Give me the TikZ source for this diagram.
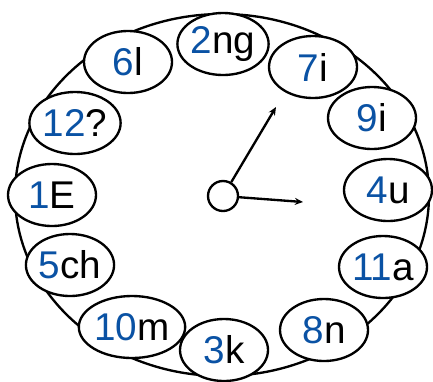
\documentclass[tikz,border=0pt]{standalone}
\usepackage{fontspec}
\setmainfont{Liberation Sans}
\usepackage{xcolor}
\usetikzlibrary{shapes.geometric, arrows.meta}
\definecolor{numblue}{RGB}{10,82,164}
\tikzset{
  letter/.style={ellipse, draw=black, fill=white, line width=2pt, minimum width=2.64cm, minimum height=1.86cm, inner sep=0pt, text centered, font=\fontsize{33}{36}\selectfont},
  hub/.style={circle, draw=black, fill=white, line width=2pt, minimum size=0.9cm, inner sep=0pt},
  hand/.style={line width=2pt, -{Stealth[length=7pt, width=6pt]}}
}
\newcommand{\lbl}[2]{\textcolor{numblue}{#1}#2}

\begin{document}
\begin{tikzpicture}[x=0.03cm, y=-0.03cm]
\useasboundingbox (0,0) rectangle (433,381);
% Clock face
\draw[line width=2pt] (222,195) ellipse [x radius=207, y radius=181];

% Letters round the face
\node[letter] (ng) at (223,44) {\lbl{2}{ng}};
\node[letter] (l) at (128,62) {\lbl{6}{l}};
\node[letter] (i7) at (313,67) {\lbl{7}{i}};
\node[letter] (i9) at (372,118) {\lbl{9}{i}};
\node[letter] (q) at (75,123) {\lbl{12}{?}};
\node[letter] (E) at (52,195) {\lbl{1}{E}};
\node[letter] (u) at (388,190) {\lbl{4}{u}};
\node[letter] (ch) at (70,265) {\lbl{5}{ch}};
\node[letter] (a) at (383,267) {\lbl{11}{a}};
\node[letter] (m) at (132,327) {\lbl{10}{m}};
\node[letter] (k) at (224,350) {\lbl{3}{k}};
\node[letter] (n) at (324,330) {\lbl{8}{n}};

% Hands
\node[hub] (centre) at (223,196) {};
\coordinate (longtip) at (276,107);
\coordinate (shorttip) at (303,202);
\draw[hand] (centre) -- (longtip);
\draw[hand] (centre) -- (shorttip);
\end{tikzpicture}
\end{document}
